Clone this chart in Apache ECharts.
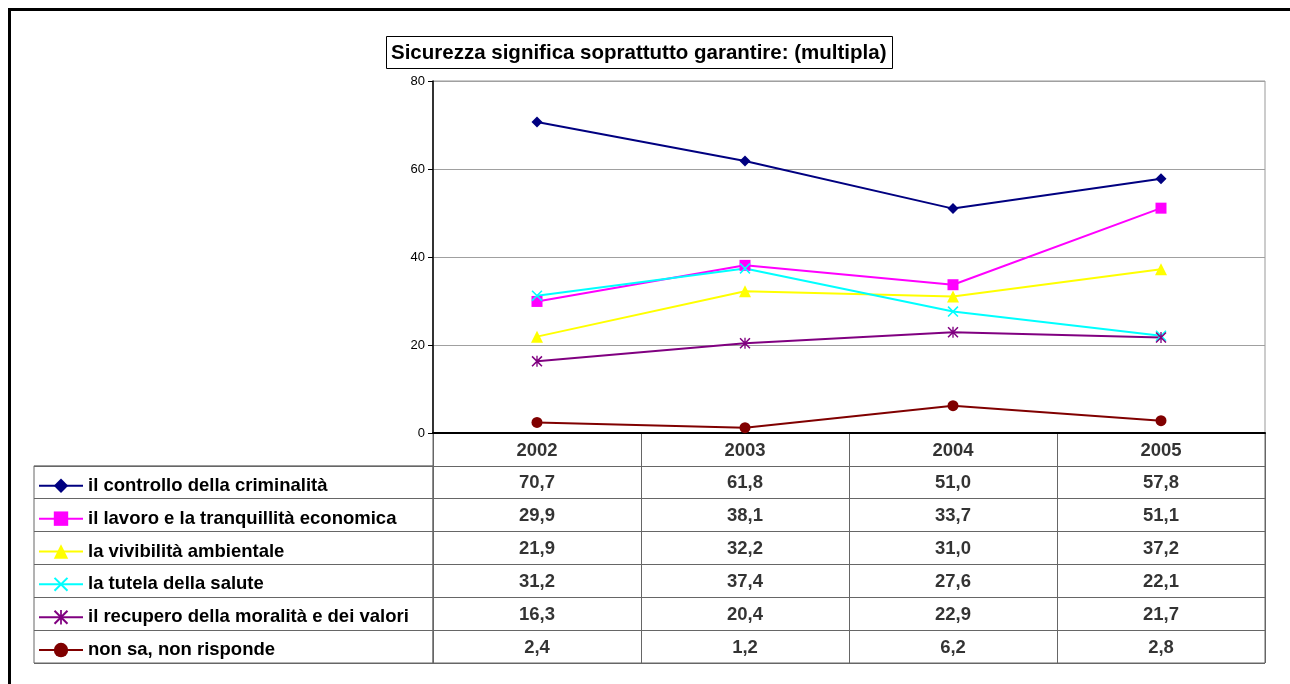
<!DOCTYPE html>
<html>
<head>
<meta charset="utf-8">
<script src="https://cdn.jsdelivr.net/npm/echarts@6/dist/echarts.min.js"></script>
<style>
  html, body { margin: 0; padding: 0; background: #fff; }
  #main { width: 1290px; height: 684px; }
</style>
</head>
<body>
<div id="main"></div>
<script>
// dati
const anni = ['2002', '2003', '2004', '2005']
const voci = [
  'il controllo della criminalità',
  'il lavoro e la tranquillità economica',
  'la vivibilità ambientale',
  'la tutela della salute',
  'il recupero della moralità e dei valori',
  'non sa, non risponde'
]
const criminalita = [70.7, 61.8, 51.0, 57.8]
const lavoro = [29.9, 38.1, 33.7, 51.1]
const vivibilita = [21.9, 32.2, 31.0, 37.2]
const salute = [31.2, 37.4, 27.6, 22.1]
const moralita = [16.3, 20.4, 22.9, 21.7]
const nonSa = [2.4, 1.2, 6.2, 2.8]
const yTicks = [0, 20, 40, 60, 80]

const valori = [criminalita, lavoro, vivibilita, salute, moralita, nonSa]
const colori = ['#000080', '#ff00ff', '#ffff00', '#00ffff', '#800080', '#800000']
// simboli stile Excel
const xPath = 'path://M0,1L1,0L10,9L9,10ZM9,0L10,1L1,10L0,9Z'
const starPath = 'path://M0,1L1,0L10,9L9,10ZM9,0L10,1L1,10L0,9ZM4.4,0L5.6,0L5.6,10L4.4,10Z'
const simboli = ['diamond', 'rect', 'triangle', xPath, starPath, 'circle']
const dimensioni = [11, 11, 12, 11, 11, 11]

const font = "'Liberation Sans', Arial, sans-serif"
const rowH = 230 / 7

let myChart = echarts.init(document.getElementById('main'))

// righe della tabella: intestazione + una riga per voce
const righe = [''].concat(voci)
let celle = []
anni.forEach((a, i) => celle.push([i, 0, a]))
valori.forEach((serie, r) => {
  serie.forEach((v, i) => celle.push([i, r + 1, v.toFixed(1).replace('.', ',')]))
})

let series = valori.map((serie, k) => ({
  name: voci[k],
  type: 'line',
  xAxisIndex: 0,
  yAxisIndex: 0,
  data: serie,
  symbol: simboli[k],
  symbolSize: dimensioni[k],
  lineStyle: { color: colori[k], width: 2 },
  itemStyle: { color: colori[k] },
  emphasis: { disabled: true }
}))

series.push({
  type: 'scatter',
  xAxisIndex: 1,
  yAxisIndex: 1,
  symbolSize: 0,
  data: celle,
  silent: true,
  label: {
    show: true,
    position: 'inside',
    offset: [0, 1],
    formatter: p => p.value[2],
    color: '#000',
    fontFamily: font,
    fontWeight: 'bold',
    fontSize: 18.5
  }
})

let option = {
  animation: false,
  title: {
    text: 'Sicurezza significa soprattutto garantire: (multipla)',
    left: 386,
    top: 36,
    padding: [6, 6, 5, 5],
    borderColor: '#000',
    borderWidth: 1,
    textStyle: { fontFamily: font, fontWeight: 'bold', fontSize: 20.5, lineHeight: 22, color: '#000' }
  },
  legend: {
    orient: 'vertical',
    left: 33,
    top: 433 + rowH * 1.5 - 9 - 5 + 3,
    itemWidth: 44,
    itemHeight: 18,
    itemGap: rowH - 19,
    selectedMode: false,
    data: voci,
    textStyle: { fontFamily: font, fontWeight: 'bold', fontSize: 18.5, lineHeight: 18, color: '#000' }
  },
  graphic: [{
    type: 'rect',
    left: 7,
    top: 7,
    shape: { width: 1300, height: 700 },
    style: { fill: 'none', stroke: '#000', lineWidth: 3 },
    silent: true
  }],
  grid: [
    { left: 433, right: 25, top: 81, bottom: 251, show: true, borderColor: '#999', borderWidth: 1 },
    { left: 433, right: 25, top: 433, bottom: 21, show: true, borderColor: '#666', borderWidth: 1 },
    { left: 34, width: 399, top: 433 + rowH, bottom: 21, show: true, borderColor: '#666', borderWidth: 1 }
  ],
  xAxis: [
    {
      gridIndex: 0, type: 'category', data: anni,
      axisLine: { lineStyle: { color: '#000', width: 2 } },
      axisTick: { show: false },
      axisLabel: { show: false }
    },
    {
      gridIndex: 1, type: 'category', data: anni,
      axisLine: { show: false },
      axisTick: { show: false },
      axisLabel: { show: false },
      splitLine: { show: true, lineStyle: { color: '#666', width: 1 } }
    },
    {
      gridIndex: 2, type: 'category', data: [''],
      axisLine: { show: false },
      axisTick: { show: false },
      axisLabel: { show: false }
    }
  ],
  yAxis: [
    {
      gridIndex: 0, type: 'value', min: yTicks[0], max: yTicks[yTicks.length - 1], interval: 20,
      axisLine: { show: true, lineStyle: { color: '#000', width: 1.5 } },
      axisTick: { show: true, length: 5, lineStyle: { color: '#000' } },
      axisLabel: { color: '#000', fontFamily: font, fontSize: 13, margin: 8 },
      splitLine: { lineStyle: { color: '#a0a0a0', width: 1 } }
    },
    {
      gridIndex: 1, type: 'category', data: righe, inverse: true,
      axisLine: { show: false },
      axisTick: { show: false },
      axisLabel: { show: false },
      splitLine: { show: true, lineStyle: { color: '#666', width: 1 } }
    },
    {
      gridIndex: 2, type: 'category', data: voci, inverse: true,
      axisLine: { show: false },
      axisTick: { show: false },
      axisLabel: { show: false },
      splitLine: { show: true, lineStyle: { color: '#666', width: 1 } }
    }
  ],
  series: series
}

myChart.setOption(option)
</script>
</body>
</html>
